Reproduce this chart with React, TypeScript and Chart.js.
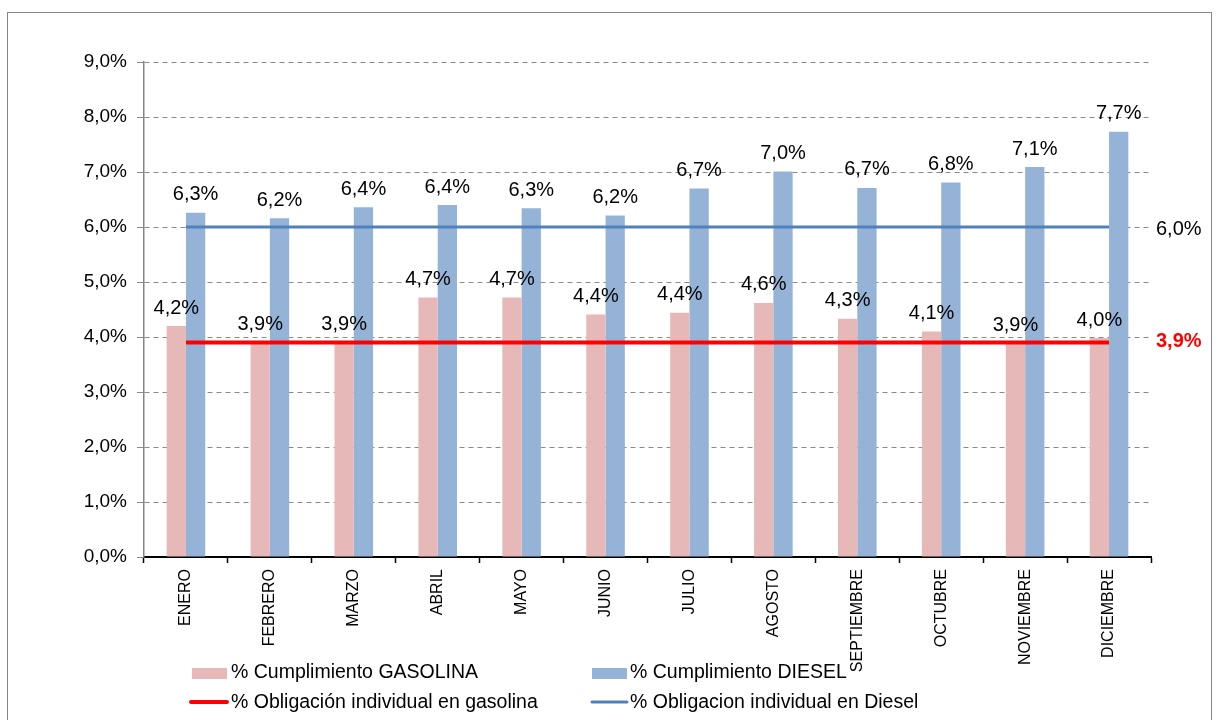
import { useEffect, useRef } from "react";
import { Chart, registerables } from "chart.js";

Chart.register(...registerables);

const months = ["ENERO", "FEBRERO", "MARZO", "ABRIL", "MAYO", "JUNIO", "JULIO", "AGOSTO", "SEPTIEMBRE", "OCTUBRE", "NOVIEMBRE", "DICIEMBRE"];
const cumplimientoGasolina = [4.2, 3.9, 3.9, 4.72, 4.72, 4.41, 4.44, 4.62, 4.33, 4.1, 3.89, 3.98];
const cumplimientoDiesel = [6.26, 6.16, 6.36, 6.4, 6.34, 6.21, 6.7, 7.01, 6.71, 6.81, 7.09, 7.73];
const obligacionGasolina = [3.9, 3.9, 3.9, 3.9, 3.9, 3.9, 3.9, 3.9, 3.9, 3.9, 3.9, 3.9];
const obligacionDiesel = [6.0, 6.0, 6.0, 6.0, 6.0, 6.0, 6.0, 6.0, 6.0, 6.0, 6.0, 6.0];
const seriesNames = [
  "% Cumplimiento GASOLINA",
  "% Cumplimiento DIESEL",
  "% Obligación individual en gasolina",
  "% Obligacion individual en Diesel",
];
const yMin = 0;
const yMax = 9;
const yStep = 1;

const FONT = '"Liberation Sans", Arial, sans-serif';
const PINK = "#E6B9B8";
const BLUE = "#95B3D7";
const RED = "#FF0000";
const DBLUE = "#4F81BD";

const fmt = (v: number) => v.toFixed(1).replace(".", ",") + "%";

const decorPlugin = {
  id: "decor",
  beforeDraw(chart: any) {
    const ctx = chart.ctx;
    ctx.save();
    ctx.fillStyle = "#ffffff";
    ctx.fillRect(0, 0, chart.width, chart.height);
    ctx.strokeStyle = "#868686";
    ctx.lineWidth = 1;
    ctx.strokeRect(7.5, 12.5, 1204, 800);
    ctx.restore();
  },
  afterDatasetsDraw(chart: any) {
    const ctx = chart.ctx;
    ctx.save();
    ctx.font = `20px ${FONT}`;
    ctx.fillStyle = "#000";
    ctx.textAlign = "center";
    ctx.textBaseline = "middle";
    [0, 1].forEach((di) => {
      const meta = chart.getDatasetMeta(di);
      const data = chart.data.datasets[di].data as number[];
      meta.data.forEach((el: any, i: number) => {
        ctx.fillText(fmt(data[i]), el.x, el.y - 18);
      });
    });
    ctx.textAlign = "left";
    const right = chart.chartArea.right;
    const m3 = chart.getDatasetMeta(3);
    const d3 = chart.data.datasets[3].data as number[];
    const last3 = m3.data[m3.data.length - 1];
    ctx.fillStyle = "#000";
    ctx.font = `20px ${FONT}`;
    ctx.fillText(fmt(d3[d3.length - 1]), right + 5, last3.y + 2);
    const m2 = chart.getDatasetMeta(2);
    const d2 = chart.data.datasets[2].data as number[];
    const last2 = m2.data[m2.data.length - 1];
    ctx.fillStyle = RED;
    ctx.font = `bold 20px ${FONT}`;
    ctx.fillText(fmt(d2[d2.length - 1]), right + 5, last2.y - 1);
    ctx.restore();
  },
  afterDraw(chart: any) {
    const ctx = chart.ctx;
    ctx.save();
    ctx.font = `19.5px ${FONT}`;
    ctx.fillStyle = "#000";
    ctx.textAlign = "left";
    ctx.textBaseline = "middle";
    const cols = [192, 592];
    const rows = [673, 703];
    ctx.fillStyle = PINK;
    ctx.fillRect(cols[0], rows[0] - 5, 35, 11);
    ctx.fillStyle = BLUE;
    ctx.fillRect(cols[1], rows[0] - 5, 35, 11);
    ctx.lineCap = "round";
    ctx.strokeStyle = RED;
    ctx.lineWidth = 4;
    ctx.beginPath();
    ctx.moveTo(cols[0] - 1, rows[1] - 1);
    ctx.lineTo(cols[0] + 35, rows[1] - 1);
    ctx.stroke();
    ctx.strokeStyle = DBLUE;
    ctx.lineWidth = 3;
    ctx.beginPath();
    ctx.moveTo(cols[1], rows[1] - 1);
    ctx.lineTo(cols[1] + 35, rows[1] - 1);
    ctx.stroke();
    ctx.fillStyle = "#000";
    ctx.fillText(seriesNames[0], cols[0] + 39, rows[0]);
    ctx.fillText(seriesNames[1], cols[1] + 38, rows[0]);
    ctx.fillText(seriesNames[2], cols[0] + 39, rows[1]);
    ctx.fillText(seriesNames[3], cols[1] + 38, rows[1]);
    ctx.restore();
  },
};

export default function App() {
  const ref = useRef<HTMLCanvasElement | null>(null);
  useEffect(() => {
    if (!ref.current) return;
    const chart = new Chart(ref.current, {
      type: "bar",
      data: {
        labels: months,
        datasets: [
          {
            type: "bar",
            label: seriesNames[0],
            data: cumplimientoGasolina,
            backgroundColor: PINK,
            categoryPercentage: 0.46,
            barPercentage: 1,
            order: 2,
          },
          {
            type: "bar",
            label: seriesNames[1],
            data: cumplimientoDiesel,
            backgroundColor: BLUE,
            categoryPercentage: 0.46,
            barPercentage: 1,
            order: 2,
          },
          {
            type: "line",
            label: seriesNames[2],
            data: obligacionGasolina,
            borderColor: RED,
            borderWidth: 4,
            pointRadius: 0,
            fill: false,
            order: 0,
          },
          {
            type: "line",
            label: seriesNames[3],
            data: obligacionDiesel,
            borderColor: DBLUE,
            borderWidth: 3,
            pointRadius: 0,
            fill: false,
            order: 1,
          },
        ] as any,
      },
      options: {
        responsive: false,
        animation: false,
        layout: { padding: { top: 62, right: 68, bottom: 43, left: 0 } },
        plugins: { legend: { display: false }, tooltip: { enabled: false } },
        scales: {
          x: {
            offset: true,
            grid: {
              display: true,
              offset: true,
              drawOnChartArea: false,
              drawTicks: true,
              tickLength: 6,
              tickColor: "#000",
              tickWidth: 1.5,
            },
            border: { display: true, color: "#000", width: 2 },
            ticks: {
              color: "#000",
              font: { family: FONT, size: 16 },
              minRotation: 90,
              maxRotation: 90,
              autoSkip: false,
              padding: 6,
            },
            afterFit: (s: any) => {
              s.height = 120;
            },
          },
          y: {
            min: yMin,
            max: yMax,
            grid: {
              color: "#8a8a8a",
              lineWidth: 1,
              drawTicks: true,
              tickLength: 7,
              tickColor: "#8a8a8a",
            },
            border: { display: true, color: "#868686", width: 1.5, dash: [5, 4] },
            ticks: {
              stepSize: yStep,
              color: "#000",
              font: { family: FONT, size: 19 },
              padding: 10,
              callback: (v: any) => fmt(Number(v)),
            },
            afterFit: (s: any) => {
              s.width = 144;
            },
          },
        },
      },
      plugins: [decorPlugin],
    });
    return () => chart.destroy();
  }, []);
  return (
    <div style={{ position: "absolute", left: 0, top: 0, width: 1219, height: 720, background: "#fff" }}>
      <canvas ref={ref} width={1219} height={720} style={{ display: "block", width: 1219, height: 720 }} />
    </div>
  );
}
